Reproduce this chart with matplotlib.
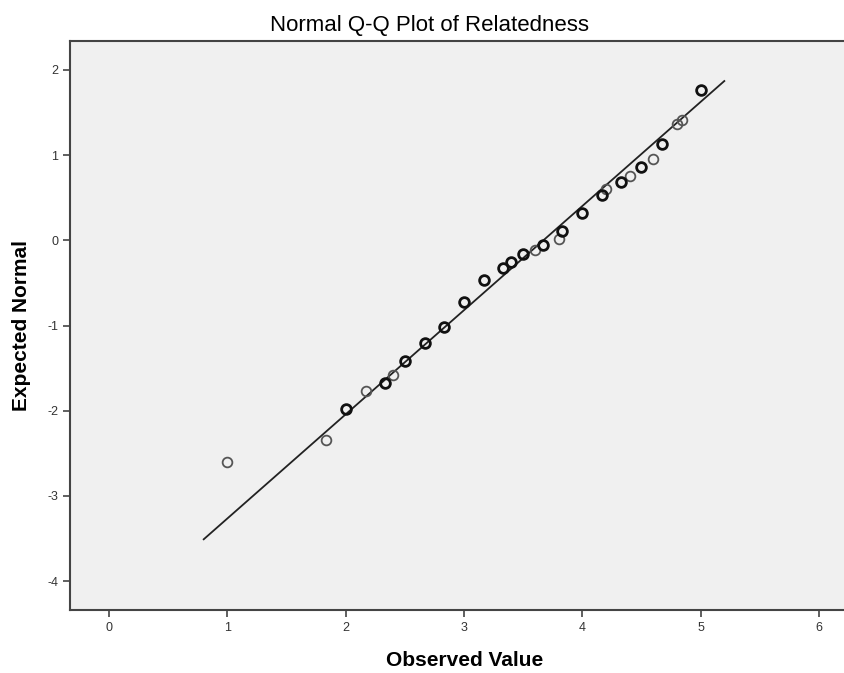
import numpy as np
import matplotlib.pyplot as plt

plt.rcParams['font.family'] = ['Liberation Sans', 'DejaVu Sans']
plt.rcParams['axes.unicode_minus'] = False

# Q-Q points, darker circles (ties) and lighter single circles
obs_dark = [2.0, 2.33, 2.5, 2.67, 2.83, 3.0, 3.17, 3.33, 3.4, 3.5, 3.67, 3.83,
            4.0, 4.17, 4.33, 4.5, 4.67, 5.0]
exp_dark = [-1.98, -1.67, -1.42, -1.21, -1.02, -0.72, -0.46, -0.33, -0.25, -0.16,
            -0.05, 0.11, 0.32, 0.53, 0.68, 0.86, 1.13, 1.77]
obs_light = [1.0, 1.83, 2.17, 2.4, 3.6, 3.8, 4.2, 4.4, 4.6, 4.8, 4.84]
exp_light = [-2.60, -2.35, -1.77, -1.58, -0.11, 0.01, 0.60, 0.76, 0.95, 1.36, 1.41]

# reference line
line_x = [0.8, 5.2]
line_y = [-3.51, 1.87]

fig = plt.figure(figsize=(8.45, 6.73), dpi=100)
ax = fig.add_axes([70/845, 63/673, 775/845, 569/673])
ax.set_facecolor('#f0f0f0')

ax.plot(line_x, line_y, color='#222222', lw=1.3)
ax.plot(obs_light, exp_light, 'o', ms=7, mfc='none', mec='#555555', mew=1.3)
ax.plot(obs_dark, exp_dark, 'o', ms=7, mfc='none', mec='#111111', mew=2.0)

ax.set_xlim(-0.33, 6.22)
ax.set_ylim(-4.34, 2.34)
ax.set_xticks(range(0, 7))
ax.set_yticks(range(-4, 3))

for s in ['left', 'bottom', 'top']:
    ax.spines[s].set_color('#444444')
    ax.spines[s].set_linewidth(1.5)
ax.spines['right'].set_visible(False)
ax.tick_params(direction='out', length=5, width=1.2, color='#444444',
               labelsize=9, labelcolor='#333333')

fig.text(430/845, 1 - 25/673, 'Normal Q-Q Plot of Relatedness', ha='center',
         va='center', fontsize=16)
fig.text(465/845, 1 - 661/673, 'Observed Value', ha='center', va='center',
         fontsize=15, fontweight='bold')
fig.text(22/845, 1 - 325/673, 'Expected Normal', ha='center', va='center',
         rotation=90, fontsize=15, fontweight='bold')

plt.savefig('out.png')
